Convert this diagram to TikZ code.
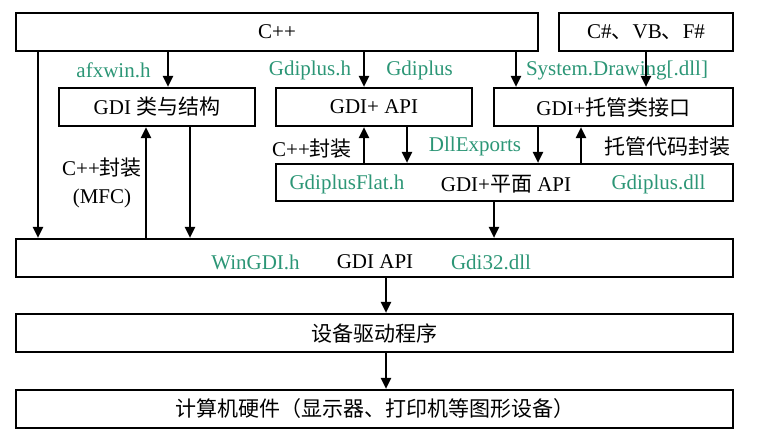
\documentclass[tikz,border=0pt]{standalone}
\usepackage{fontspec}
\setmainfont{Liberation Serif}
\newfontfamily\cjk{Noto Sans CJK SC}
\usetikzlibrary{arrows.meta}
\definecolor{lblgreen}{RGB}{44,150,118}
\begin{document}
\begin{tikzpicture}[x=1pt,y=-1pt,
  box/.style={draw,line width=2.2pt,rectangle,inner sep=0pt,minimum height=38pt,font=\fontsize{21}{25}\selectfont},
  txt/.style={inner sep=0pt,font=\fontsize{21}{25}\selectfont},
  glbl/.style={txt,text=lblgreen},
  arr/.style={line width=2.1pt,-{Triangle[length=11pt,width=10pt]}}]
\useasboundingbox (0,0) rectangle (778,447);
% boxes
\node[box,minimum width=522pt] (cpp) at (277,32) {C++};
\node[box,minimum width=174pt] (cs) at (646,32) {C\#{\cjk 、}VB{\cjk 、}F\#};
\node[box,minimum width=196pt] (gdicls) at (157,107) {GDI {\cjk 类与结构}};
\node[box,minimum width=196pt] (gdipapi) at (374,107) {GDI+ API};
\node[box,minimum width=239pt] (managed) at (613.5,107) {GDI+{\cjk 托管类接口}};
\node[box,minimum width=457pt,minimum height=37pt] (flat) at (504.5,182.5) {};
\node[box,minimum width=717pt] (gdiapi) at (374.5,258) {};
\node[box,minimum width=717pt] (driver) at (374.5,333) {{\cjk 设备驱动程序}};
\node[box,minimum width=717pt] (hw) at (374.5,409) {{\cjk 计算机硬件（显示器、打印机等图形设备）}};
% texts inside the wide boxes
\node[glbl] (tflath) at (347,184) {GdiplusFlat.h};
\node[txt] (tflat) at (506,184) {GDI+{\cjk 平面} API};
\node[glbl] (tgpdll) at (658.5,184) {Gdiplus.dll};
\node[glbl] (twingdi) at (255.5,262) {WinGDI.h};
\node[txt] (tgdiapi) at (375,262) {GDI API};
\node[glbl] (tgdi32) at (491,262) {Gdi32.dll};
% labels
\node[glbl] (lafx) at (113.5,70) {afxwin.h};
\node[glbl] (lgph) at (310,70) {Gdiplus.h};
\node[glbl] (lgp) at (419.5,70) {Gdiplus};
\node[glbl] (lsd) at (617,70) {System.Drawing[.dll]};
\node[txt] (lcppw) at (312,149) {C++{\cjk 封装}};
\node[glbl] (ldll) at (475,146) {DllExports};
\node[txt] (lmanw) at (667.5,147) {{\cjk 托管代码封装}};
\node[txt,align=center] (lmfc) at (102,183) {C++{\cjk 封装}\\[3pt](MFC)};
% connectors
\draw[arr] (cpp.south -| 38,0) -- (gdiapi.north -| 38,0);
\draw[arr] (cpp.south -| 168,0) -- (gdicls.north -| 168,0);
\draw[arr] (gdiapi.north -| 146,0) -- (gdicls.south -| 146,0);
\draw[arr] (gdicls.south -| 190,0) -- (gdiapi.north -| 190,0);
\draw[arr] (cpp.south -| 364,0) -- (gdipapi.north -| 364,0);
\draw[arr] (flat.north -| 364,0) -- (gdipapi.south -| 364,0);
\draw[arr] (gdipapi.south -| 407,0) -- (flat.north -| 407,0);
\draw[arr] (cpp.south -| 516,0) -- (managed.north -| 516,0);
\draw[arr] (cs.south) -- (managed.north -| cs.south);
\draw[arr] (managed.south -| 538,0) -- (flat.north -| 538,0);
\draw[arr] (flat.north -| 581,0) -- (managed.south -| 581,0);
\draw[arr] (flat.south -| 494,0) -- (gdiapi.north -| 494,0);
\draw[arr] (gdiapi.south -| 386,0) -- (driver.north -| 386,0);
\draw[arr] (driver.south -| 386,0) -- (hw.north -| 386,0);
\end{tikzpicture}
\end{document}
